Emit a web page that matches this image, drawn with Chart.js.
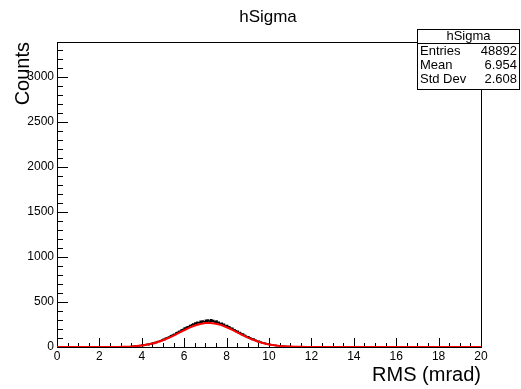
<!DOCTYPE html>
<html lang="en">
<head>
  <meta charset="utf-8">
  <script src="https://cdn.jsdelivr.net/npm/chart.js"></script>
</head>
<style>
  body {
    margin: 0;
    background-color: #fff;
  }
  canvas {
    display: block;
  }
</style>
<body>
  <canvas id="hSigmaChart" width="521" height="389"></canvas>

  <script>
    // Histogram bins: left edge of the first bin and bin width (mrad)
    var histStart = 3.5;
    var binWidth = 0.05;
    var histCounts = [
      6, 9, 5, 8, 10,
      12, 9, 14, 11, 16,
      17, 21, 16, 24, 22,
      27, 31, 26, 35, 33,
      40, 44, 39, 50, 48,
      57, 62, 60, 70, 73,
      79, 86, 84, 96, 99,
      104, 112, 110, 124, 128,
      134, 142, 140, 155, 160,
      165, 176, 172, 188, 193,
      197, 210, 205, 220, 224,
      226, 240, 236, 248, 255,
      252, 266, 258, 274, 270,
      268, 285, 276, 290, 281,
      279, 296, 284, 300, 289,
      283, 302, 286, 294, 280,
      274, 288, 270, 276, 262,
      256, 265, 250, 252, 238,
      232, 240, 222, 224, 210,
      203, 208, 192, 193, 180,
      171, 176, 162, 160, 149,
      140, 144, 130, 129, 118,
      110, 114, 102, 100, 91,
      84, 88, 78, 75, 68,
      62, 64, 56, 54, 48,
      44, 45, 39, 37, 33,
      30, 31, 26, 24, 21,
      20, 20, 16, 15, 13,
      13, 12, 10, 9, 8,
      8, 7, 6, 5, 5
    ];

    // Gaussian fit curve sampled along the axis
    var fitX = [0, 3, 3.25, 3.5, 3.75, 4, 4.25, 4.5, 4.75, 5, 5.25, 5.5, 5.75, 6, 6.25, 6.5, 6.75,
                7, 7.25, 7.5, 7.75, 8, 8.25, 8.5, 8.75, 9, 9.25, 9.5, 9.75, 10, 10.25, 10.5,
                10.75, 11, 11.25, 11.5, 11.75, 12, 20];
    var fitY = [0, 2.4, 4.1, 6.9, 11.2, 17.6, 26.7, 39.0, 55.2, 75.4, 99.6, 127.0, 156.5, 186.4, 214.6, 238.7, 256.5,
                266.3, 267.3, 259.2, 242.8, 219.8, 192.3, 162.5, 132.8, 104.8, 79.9, 58.9, 41.9, 28.9, 19.2, 12.3,
                7.7, 4.6, 2.7, 1.5, 0.8, 0.4, 0];

    // Axis ticks and stats box
    var xTickLabels = [0, 2, 4, 6, 8, 10, 12, 14, 16, 18, 20];
    var yTickLabels = [0, 500, 1000, 1500, 2000, 2500, 3000];
    var statNames = ['Entries', 'Mean', 'Std Dev'];
    var statValues = ['48892', '6.954', '2.608'];

    var histPoints = histCounts.map(function(c, i) {
      return { x: histStart + i * binWidth, y: c };
    });
    histPoints.push({ x: histStart + histCounts.length * binWidth, y: 0 });

    var fitPoints = fitX.map(function(x, i) {
      return { x: x, y: fitY[i] };
    });

    var FONT = 'Liberation Sans, Arial, sans-serif';

    // Frame with inward ROOT style ticks
    var framePlugin = {
      id: 'frame',
      beforeDatasetsDraw: function(chart) {
        var ctx = chart.ctx;
        var a = chart.chartArea;
        var xs = chart.scales.x;
        var ys = chart.scales.y;
        ctx.save();
        ctx.strokeStyle = '#000';
        ctx.lineWidth = 1;
        ctx.strokeRect(a.left + 0.5, a.top + 0.5, a.right - a.left, a.bottom - a.top);
        ctx.beginPath();
        for (var v = 0; v <= 20.001; v += 0.5) {
          var px = Math.round(xs.getPixelForValue(v)) + 0.5;
          var len = (Math.abs(v / 2 - Math.round(v / 2)) < 1e-6) ? 9 : 4;
          ctx.moveTo(px, a.bottom);
          ctx.lineTo(px, a.bottom - len);
        }
        for (var c = 0; c <= 3390; c += 100) {
          var py = Math.round(ys.getPixelForValue(c)) + 0.5;
          var ylen = (c % 500 === 0) ? 11 : 6;
          ctx.moveTo(a.left, py);
          ctx.lineTo(a.left + ylen, py);
        }
        ctx.stroke();
        ctx.restore();
      },
      afterDraw: function(chart) {
        var ctx = chart.ctx;
        ctx.save();
        // title
        ctx.fillStyle = '#000';
        ctx.font = '17px ' + FONT;
        ctx.textAlign = 'center';
        ctx.textBaseline = 'middle';
        ctx.fillText('hSigma', 268, 17);

        // stats box
        var bx = 417, by = 29, bw = 103, bh = 60;
        ctx.fillStyle = '#fff';
        ctx.fillRect(bx, by, bw, bh);
        ctx.strokeStyle = '#000';
        ctx.lineWidth = 1;
        ctx.strokeRect(bx + 0.5, by + 0.5, bw - 1, bh);
        ctx.beginPath();
        ctx.moveTo(bx, by + 14.5);
        ctx.lineTo(bx + bw, by + 14.5);
        ctx.stroke();
        ctx.fillStyle = '#000';
        ctx.font = '13px ' + FONT;
        ctx.textAlign = 'center';
        ctx.fillText('hSigma', bx + bw / 2, by + 7.5);
        var rowY = [51, 65, 79];
        for (var i = 0; i < statNames.length; i++) {
          ctx.textAlign = 'left';
          ctx.fillText(statNames[i], bx + 3, rowY[i]);
          ctx.textAlign = 'right';
          ctx.fillText(statValues[i], bx + bw - 3, rowY[i]);
        }
        ctx.restore();
      }
    };

    var ctx = document.getElementById('hSigmaChart').getContext('2d');
    var hSigmaChart = new Chart(ctx, {
      type: 'line',
      data: {
        datasets: [{
          label: 'fit',
          data: fitPoints,
          borderColor: '#ff0000',
          borderWidth: 2,
          pointRadius: 0,
          tension: 0
        }, {
          label: 'hSigma',
          data: histPoints,
          borderColor: '#000000',
          borderWidth: 1.5,
          pointRadius: 0,
          stepped: 'after',
          tension: 0
        }]
      },
      options: {
        responsive: false,
        animation: false,
        devicePixelRatio: 1,
        layout: {
          padding: { top: 42, right: 40, bottom: 0, left: 0 }
        },
        plugins: {
          legend: { display: false },
          tooltip: { enabled: false },
          title: { display: false }
        },
        scales: {
          x: {
            type: 'linear',
            min: 0,
            max: 20,
            grid: { display: false, drawTicks: false },
            border: { display: false },
            afterFit: function(scale) { scale.height = 42; },
            afterBuildTicks: function(scale) {
              scale.ticks = xTickLabels.map(function(v) { return { value: v }; });
            },
            ticks: {
              padding: 2,
              color: '#000',
              maxRotation: 0,
              font: { family: FONT, size: 12 },
              callback: function(value) { return String(value); }
            },
            title: {
              display: true,
              text: 'RMS (mrad)',
              align: 'end',
              color: '#000',
              padding: { top: 0, bottom: 2 },
              font: { family: FONT, size: 20 }
            }
          },
          y: {
            min: 0,
            max: 3390,
            grid: { display: false, drawTicks: false },
            border: { display: false },
            afterFit: function(scale) { scale.width = 57; },
            afterBuildTicks: function(scale) {
              scale.ticks = yTickLabels.map(function(v) { return { value: v }; });
            },
            ticks: {
              padding: 3,
              color: '#000',
              font: { family: FONT, size: 12 },
              callback: function(value) { return String(value); }
            },
            title: {
              display: true,
              text: 'Counts',
              align: 'end',
              color: '#000',
              padding: { top: 11, bottom: 0 },
              font: { family: FONT, size: 20 }
            }
          }
        }
      },
      plugins: [framePlugin]
    });
  </script>
</body>
</html>
